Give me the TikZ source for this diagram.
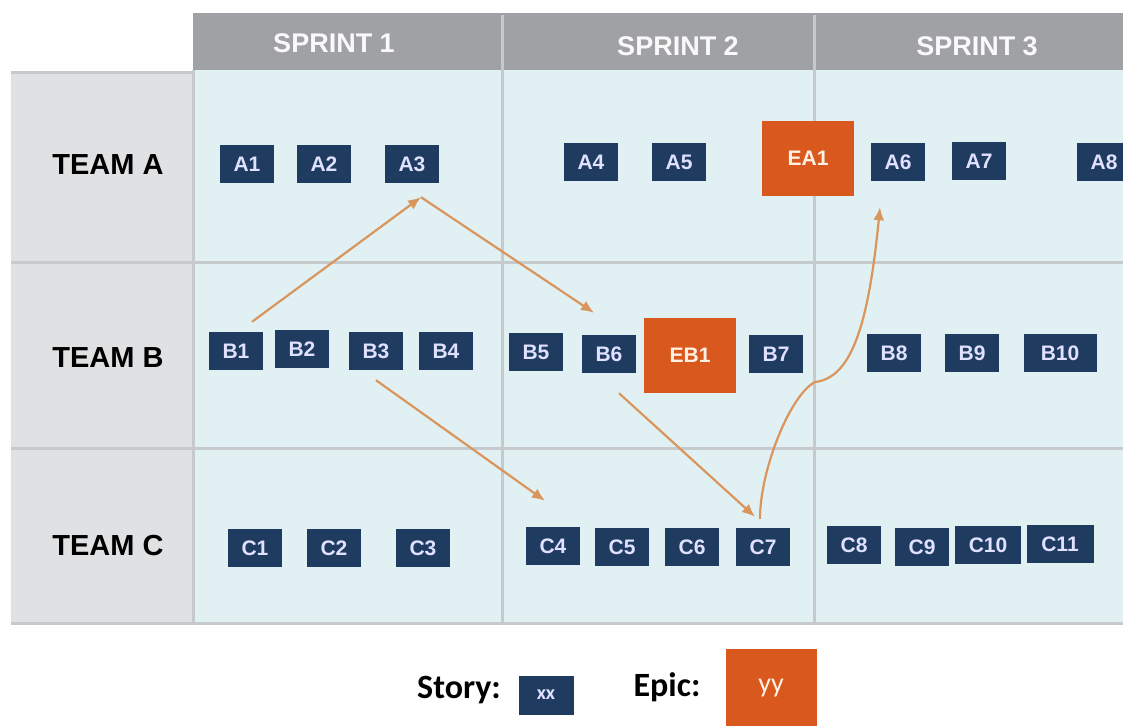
\documentclass[tikz,border=0pt]{standalone}
\usepackage{fontspec}
\setmainfont{Liberation Sans}
\newfontfamily\legendfont{Carlito}
\usetikzlibrary{arrows.meta}
\definecolor{headgray}{HTML}{A0A1A4}
\definecolor{teamgray}{HTML}{E0E1E3}
\definecolor{gridcyan}{HTML}{E1F1F3}
\definecolor{linegray}{HTML}{C6CACD}
\definecolor{storyblue}{HTML}{1F3B60}
\definecolor{epicorange}{HTML}{D9581E}
\definecolor{arroworange}{HTML}{D9955C}
\begin{document}
\begin{tikzpicture}[x=1pt,y=-1pt]
\tikzstyle{story}=[fill=storyblue, text=white!88!blue, inner sep=0pt, minimum width=54pt, minimum height=38pt, font=\bfseries\fontsize{21}{21}\selectfont]
\tikzstyle{epic}=[fill=epicorange, text=white!90!orange, inner sep=0pt, minimum width=92pt, minimum height=75pt, font=\bfseries\fontsize{21}{21}\selectfont]
\tikzstyle{team}=[font=\bfseries\fontsize{29}{29}\selectfont]
\tikzstyle{sprint}=[text=white!95!gray, font=\bfseries\fontsize{27}{27}\selectfont]
\tikzstyle{arrow}=[-{Latex[length=13pt,width=11pt]}, draw=arroworange, line width=2.2pt]
\useasboundingbox (0,0) rectangle (1123,725);

% table
\fill[white] (0,0) rectangle (1123,725);
\fill[gridcyan] (193,70) rectangle (1123,623);
\fill[teamgray] (11,72) rectangle (193,623);
\fill[headgray] (193,13) rectangle (1123,70);
\draw[linegray, line width=3pt] (11,72) -- (193,72);
\draw[linegray, line width=3pt] (11,262) -- (1123,262);
\draw[linegray, line width=3pt] (11,448) -- (1123,448);
\draw[linegray, line width=3pt] (11,623) -- (1123,623);
\draw[linegray, line width=3pt] (193,70) -- (193,623);
\draw[linegray, line width=3pt] (502,15) -- (502,623);
\draw[linegray, line width=3pt] (814,15) -- (814,623);

\node[sprint] (s1) at (334,43) {SPRINT 1};
\node[sprint] (s2) at (678,46) {SPRINT 2};
\node[sprint] (s3) at (977,46) {SPRINT 3};
\node[team] (tA) at (108,165) {TEAM A};
\node[team] (tB) at (108,358) {TEAM B};
\node[team] (tC) at (108,546) {TEAM C};

% team A
\node[story] (A1) at (247,164) {A1};
\node[story] (A2) at (324,164) {A2};
\node[story] (A3) at (412,164) {A3};
\node[story] (A4) at (591,162) {A4};
\node[story] (A5) at (679,162) {A5};
\node[epic] (EA1) at (808,158) {EA1};
\node[story] (A6) at (898,162) {A6};
\node[story] (A7) at (979,161) {A7};
\node[story] (A8) at (1104,162) {A8};

% team B
\node[story] (B1) at (236,351) {B1};
\node[story] (B2) at (302,349) {B2};
\node[story] (B3) at (376,351) {B3};
\node[story] (B4) at (446,351) {B4};
\node[story] (B5) at (536,352) {B5};
\node[story] (B6) at (609,354) {B6};
\node[epic] (EB1) at (690,355) {EB1};
\node[story] (B7) at (776,354) {B7};
\node[story] (B8) at (894,353) {B8};
\node[story] (B9) at (972,353) {B9};
\node[story, minimum width=73pt] (B10) at (1060,353) {B10};

% team C
\node[story] (C1) at (255,548) {C1};
\node[story] (C2) at (334,548) {C2};
\node[story] (C3) at (423,548) {C3};
\node[story] (C4) at (553,546) {C4};
\node[story] (C5) at (622,547) {C5};
\node[story] (C6) at (692,547) {C6};
\node[story] (C7) at (763,547) {C7};
\node[story] (C8) at (854,545) {C8};
\node[story] (C9) at (922,547) {C9};
\node[story, minimum width=66pt] (C10) at (988,545) {C10};
\node[story, minimum width=67pt] (C11) at (1060,544) {C11};

% legend
\node[font=\legendfont\bfseries\fontsize{34}{34}\selectfont] (lstory) at (459,690) {Story:};
\node[story, minimum width=55pt, minimum height=39pt, font=\legendfont\bfseries\fontsize{20}{20}\selectfont] (lxx) at (546,695) {xx};
\node[font=\legendfont\bfseries\fontsize{34}{34}\selectfont] (lepic) at (667,687) {Epic:};
\node[epic, minimum width=91pt, minimum height=78pt, font=\legendfont\fontsize{28}{28}\selectfont] (lyy) at (771,688) {yy};

% dependencies
\coordinate (kink) at (815,382);
\draw[arrow] ([xshift=16pt,yshift=10pt]B1.north) -- ([xshift=9pt,yshift=-14pt]A3.south);
\draw[arrow] ([xshift=9pt,yshift=-14pt]A3.south) -- ([xshift=-15pt,yshift=22pt]B6.north);
\draw[arrow] ([yshift=-10pt]B3.south) -- ([xshift=-8pt,yshift=26pt]C4.north);
\draw[arrow] ([xshift=10pt,yshift=-20pt]B6.south) -- ([xshift=-8pt,yshift=11pt]C7.north);
\draw[arrow] ([xshift=-3pt,yshift=9pt]C7.north) .. controls (760,470) and (790,395) .. (kink)
  .. controls (850,378) and (868,330) .. ([xshift=-18pt,yshift=-26pt]A6.south);
\end{tikzpicture}
\end{document}
